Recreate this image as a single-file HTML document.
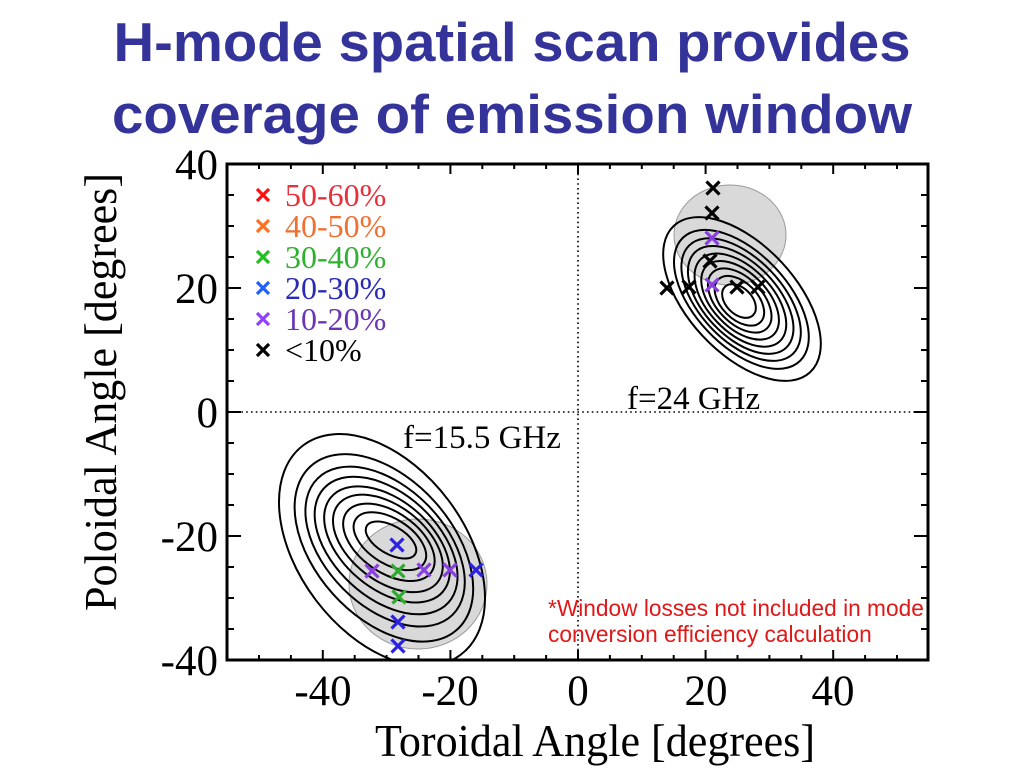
<!DOCTYPE html>
<html>
<head>
<meta charset="utf-8">
<style>
  html, body { margin: 0; padding: 0; background: #ffffff; }
  svg { display: block; }
</style>
</head>
<body>
<svg width="1024" height="768" viewBox="0 0 1024 768" xmlns="http://www.w3.org/2000/svg">
  <rect x="0" y="0" width="1024" height="768" fill="#ffffff"/>

  <!-- Title -->
  <g font-family="'Liberation Sans', Arial, sans-serif" font-weight="bold" fill="#333399" font-size="55" text-anchor="middle">
    <text x="512" y="61" textLength="797" lengthAdjust="spacingAndGlyphs">H-mode spatial scan provides</text>
    <text x="512" y="133" textLength="800" lengthAdjust="spacingAndGlyphs">coverage of emission window</text>
  </g>

  <defs>
    <clipPath id="plotclip">
      <rect x="227" y="164" width="701" height="496"/>
    </clipPath>
  </defs>

  <!-- Dotted zero lines -->
  <g stroke="#000" stroke-width="1.6" stroke-dasharray="1.6 3.2" fill="none">
    <line x1="578" y1="164" x2="578" y2="660"/>
    <line x1="227" y1="412" x2="928" y2="412"/>
  </g>

  <g clip-path="url(#plotclip)">
    <!-- Gray window circles -->
    <ellipse cx="418" cy="584" rx="69" ry="65" fill="#d9d9d9" stroke="#9a9a9a" stroke-width="1"/>
    <ellipse cx="730" cy="235" rx="56" ry="50" fill="#d9d9d9" stroke="#9a9a9a" stroke-width="1"/>

    <!-- 15.5 GHz contours -->
    <g fill="none" stroke="#000" stroke-width="2">
      <ellipse cx="391" cy="540" rx="28" ry="14" transform="rotate(30 391 540)"/>
      <ellipse cx="389.9" cy="541.2" rx="40.6" ry="22.4" transform="rotate(32.8 389.9 541.2)"/>
      <ellipse cx="388.9" cy="542.3" rx="51.9" ry="30" transform="rotate(35.3 388.9 542.3)"/>
      <ellipse cx="387.9" cy="543.4" rx="63.1" ry="37.5" transform="rotate(37.8 387.9 543.4)"/>
      <ellipse cx="387" cy="544.4" rx="73.2" ry="44.3" transform="rotate(40.1 387 544.4)"/>
      <ellipse cx="386.1" cy="545.5" rx="84.5" ry="51.9" transform="rotate(42.6 386.1 545.5)"/>
      <ellipse cx="385.1" cy="546.6" rx="95.9" ry="59.5" transform="rotate(45.2 385.1 546.6)"/>
      <ellipse cx="383.9" cy="547.9" rx="109.7" ry="68.7" transform="rotate(48.2 383.9 547.9)"/>
      <ellipse cx="382" cy="550" rx="131" ry="83" transform="rotate(53 382 550)"/>
    </g>

    <!-- 24 GHz contours -->
    <g fill="none" stroke="#000" stroke-width="2">
      <ellipse cx="739" cy="301" rx="20" ry="13" transform="rotate(45 739 301)"/>
      <ellipse cx="739.4" cy="300.8" rx="30" ry="18.1" transform="rotate(45.25 739.4 300.8)"/>
      <ellipse cx="739.7" cy="300.5" rx="39" ry="22.7" transform="rotate(45.5 739.7 300.5)"/>
      <ellipse cx="740.1" cy="300.3" rx="48" ry="27.4" transform="rotate(45.7 740.1 300.3)"/>
      <ellipse cx="740.4" cy="300.1" rx="57" ry="32" transform="rotate(45.9 740.4 300.1)"/>
      <ellipse cx="740.7" cy="299.9" rx="66" ry="36.6" transform="rotate(46.2 740.7 299.9)"/>
      <ellipse cx="741.1" cy="299.6" rx="75" ry="41.2" transform="rotate(46.4 741.1 299.6)"/>
      <ellipse cx="741.4" cy="299.4" rx="85" ry="46.3" transform="rotate(46.6 741.4 299.4)"/>
      <ellipse cx="742" cy="299" rx="100" ry="54" transform="rotate(47 742 299)"/>
    </g>
  </g>

  <!-- Markers (15.5 GHz) -->
  <g stroke-width="3.2" fill="none">
    <path stroke="#2a22e0" d="M390.5 538.5l13 13M403.5 538.5l-13 13"/>
    <path stroke="#8a40e0" d="M365.5 564.5l13 13M378.5 564.5l-13 13"/>
    <path stroke="#2eaa2e" d="M391.5 564.5l13 13M404.5 564.5l-13 13"/>
    <path stroke="#8a40e0" d="M417.5 563.5l13 13M430.5 563.5l-13 13"/>
    <path stroke="#8a40e0" d="M443.5 563.5l13 13M456.5 563.5l-13 13"/>
    <path stroke="#2a22e0" d="M469.5 563.5l13 13M482.5 563.5l-13 13"/>
    <path stroke="#2eaa2e" d="M392.5 590.5l13 13M405.5 590.5l-13 13"/>
    <path stroke="#2a22e0" d="M391.5 615.5l13 13M404.5 615.5l-13 13"/>
    <path stroke="#2a22e0" d="M391.5 639.5l13 13M404.5 639.5l-13 13"/>
  </g>

  <!-- Markers (24 GHz) -->
  <g stroke-width="3.2" fill="none">
    <path stroke="#000" d="M706.5 181.5l13 13M719.5 181.5l-13 13"/>
    <path stroke="#000" d="M705.5 206.5l13 13M718.5 206.5l-13 13"/>
    <path stroke="#8a40e0" d="M705.5 231.5l13 13M718.5 231.5l-13 13"/>
    <path stroke="#000" d="M703.5 254.5l13 13M716.5 254.5l-13 13"/>
    <path stroke="#000" d="M660.5 281.5l13 13M673.5 281.5l-13 13"/>
    <path stroke="#000" d="M682.5 280.5l13 13M695.5 280.5l-13 13"/>
    <path stroke="#000" d="M730.5 280.5l13 13M743.5 280.5l-13 13"/>
    <path stroke="#000" d="M751.5 280.5l13 13M764.5 280.5l-13 13"/>
    <path stroke="#8a40e0" d="M705.5 278.5l13 13M718.5 278.5l-13 13"/>
  </g>

  <!-- Legend -->
  <g stroke-width="3.2" fill="none">
    <path stroke="#ff1010" d="M257 189l12 12M269 189l-12 12"/>
    <path stroke="#ff7020" d="M257 220l12 12M269 220l-12 12"/>
    <path stroke="#20c020" d="M257 251l12 12M269 251l-12 12"/>
    <path stroke="#2060ff" d="M257 282l12 12M269 282l-12 12"/>
    <path stroke="#9040ff" d="M257 313l12 12M269 313l-12 12"/>
    <path stroke="#000000" d="M257 344l12 12M269 344l-12 12"/>
  </g>
  <g font-family="'Liberation Serif', 'Times New Roman', serif" font-size="32">
    <text x="285" y="206" fill="#e8303a">50-60%</text>
    <text x="285" y="237" fill="#f07030">40-50%</text>
    <text x="285" y="268" fill="#30b030">30-40%</text>
    <text x="285" y="299" fill="#2a2ab8">20-30%</text>
    <text x="285" y="330" fill="#6a35b5">10-20%</text>
    <text x="285" y="361" fill="#000000">&lt;10%</text>
  </g>

  <!-- Frequency labels -->
  <g font-family="'Liberation Serif', 'Times New Roman', serif" font-size="33" fill="#000">
    <text x="627" y="409">f=24 GHz</text>
    <text x="403" y="448">f=15.5 GHz</text>
  </g>

  <!-- Red note -->
  <g font-family="'Liberation Sans', Arial, sans-serif" font-size="22.7" fill="#e01818">
    <text x="548" y="616">*Window losses not included in mode</text>
    <text x="548" y="642">conversion efficiency calculation</text>
  </g>

  <!-- Axes frame -->
  <rect x="227" y="164" width="701" height="496" fill="none" stroke="#000" stroke-width="3"/>

  <!-- Ticks -->
  <g stroke="#000" stroke-width="2" fill="none">
    <!-- bottom -->
    <path d="M259 660v-5M290.9 660v-5M322.8 660v-10M354.7 660v-5M386.6 660v-5M418.5 660v-5M450.4 660v-10M482.3 660v-5M514.2 660v-5M546.1 660v-5M578 660v-10M609.9 660v-5M641.8 660v-5M673.7 660v-5M705.6 660v-10M737.5 660v-5M769.4 660v-5M801.3 660v-5M833.2 660v-10M865.1 660v-5M897 660v-5"/>
    <!-- top -->
    <path d="M259 164v5M290.9 164v5M322.8 164v10M354.7 164v5M386.6 164v5M418.5 164v5M450.4 164v10M482.3 164v5M514.2 164v5M546.1 164v5M578 164v10M609.9 164v5M641.8 164v5M673.7 164v5M705.6 164v10M737.5 164v5M769.4 164v5M801.3 164v5M833.2 164v10M865.1 164v5M897 164v5"/>
    <!-- left -->
    <path d="M227 195h7M227 226h7M227 257h7M227 288h14M227 319h7M227 350h7M227 381h7M227 412h14M227 443h7M227 474h7M227 505h7M227 536h14M227 567h7M227 598h7M227 629h7"/>
    <!-- right -->
    <path d="M928 195h-7M928 226h-7M928 257h-7M928 288h-14M928 319h-7M928 350h-7M928 381h-7M928 412h-14M928 443h-7M928 474h-7M928 505h-7M928 536h-14M928 567h-7M928 598h-7M928 629h-7"/>
  </g>

  <!-- Tick labels -->
  <g font-family="'Liberation Serif', 'Times New Roman', serif" font-size="43" fill="#000">
    <g text-anchor="end">
      <text x="218" y="179">40</text>
      <text x="218" y="303">20</text>
      <text x="218" y="427">0</text>
      <text x="218" y="551">-20</text>
      <text x="218" y="675">-40</text>
    </g>
    <g text-anchor="middle">
      <text x="323" y="705">-40</text>
      <text x="450" y="705">-20</text>
      <text x="578" y="705">0</text>
      <text x="706" y="705">20</text>
      <text x="833" y="705">40</text>
    </g>
  </g>

  <!-- Axis titles -->
  <g font-family="'Liberation Serif', 'Times New Roman', serif" font-size="45" fill="#000">
    <text x="595" y="756" text-anchor="middle" textLength="440" lengthAdjust="spacingAndGlyphs">Toroidal Angle [degrees]</text>
    <text x="0" y="0" text-anchor="middle" transform="translate(116 392) rotate(-90)" textLength="438" lengthAdjust="spacingAndGlyphs">Poloidal Angle [degrees]</text>
  </g>
</svg>
</body>
</html>
